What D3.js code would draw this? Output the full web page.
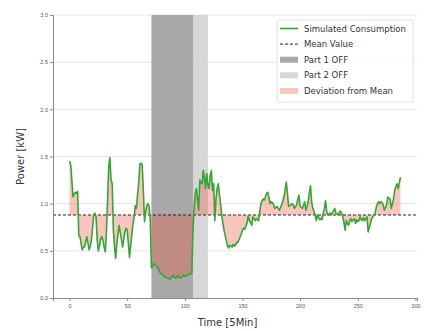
<!DOCTYPE html>
<html>
<head>
<meta charset="utf-8">
<script src="https://cdn.jsdelivr.net/npm/d3@7"></script>
<style>
  body { margin: 0; background: #fff; }
  svg { display: block; font-family: "DejaVu Sans", sans-serif; }
</style>
</head>
<body>
<svg id="chart" width="425" height="331"></svg>
<script>
// simulated consumption, one value per 5 minutes (0..287)
const consumption = [
  1.45, 1.41, 1.25, 1.07, 1.10, 1.12, 1.11, 1.13, 0.66, 0.65,
  0.58, 0.51, 0.54, 0.54, 0.60, 0.65, 0.58, 0.51, 0.55, 0.61,
  0.75, 0.88, 0.90, 0.86, 0.61, 0.50, 0.55, 0.63, 0.65, 0.61,
  0.54, 0.49, 0.70, 1.05, 1.40, 1.49, 1.25, 1.21, 0.72, 0.55,
  0.42, 0.57, 0.68, 0.77, 0.69, 0.62, 0.54, 0.62, 0.70, 0.74,
  0.72, 0.58, 0.43, 0.55, 0.67, 0.78, 0.86, 0.98, 0.95, 1.10,
  1.22, 1.42, 1.43, 1.41, 1.15, 0.81, 0.92, 0.98, 1.00, 0.97,
  0.83, 0.32, 0.33, 0.36, 0.36, 0.34, 0.33, 0.31, 0.28, 0.26,
  0.26, 0.24, 0.23, 0.22, 0.22, 0.21, 0.21, 0.20, 0.21, 0.23,
  0.24, 0.22, 0.21, 0.22, 0.24, 0.22, 0.21, 0.22, 0.23, 0.24,
  0.23, 0.24, 0.24, 0.25, 0.26, 0.25, 0.26, 0.70, 0.95, 1.10,
  1.16, 1.05, 0.93, 1.25, 1.22, 1.21, 1.35, 1.28, 1.16, 1.32,
  1.20, 1.16, 1.30, 1.35, 1.14, 1.21, 0.82, 1.05, 1.16, 1.21,
  1.10, 1.00, 0.88, 0.79, 0.72, 0.66, 0.61, 0.55, 0.53, 0.56,
  0.55, 0.54, 0.57, 0.55, 0.56, 0.59, 0.59, 0.62, 0.65, 0.68,
  0.72, 0.74, 0.73, 0.76, 0.80, 0.87, 0.82, 0.80, 0.77, 0.86,
  0.84, 0.82, 0.84, 0.83, 0.82, 0.92, 1.00, 1.03, 1.05, 1.04,
  1.08, 1.11, 1.12, 1.06, 1.00, 1.02, 1.01, 0.99, 0.95, 0.96,
  0.97, 0.95, 0.93, 0.96, 0.99, 1.03, 1.07, 1.15, 1.23, 1.11,
  0.97, 0.98, 0.99, 1.00, 0.99, 0.95, 0.97, 0.99, 1.05, 1.09,
  0.97, 0.96, 0.95, 0.99, 1.02, 0.93, 0.97, 1.02, 1.12, 1.19,
  1.02, 0.95, 0.92, 0.88, 0.82, 0.88, 0.85, 0.83, 0.84, 0.83,
  0.90, 0.95, 1.03, 0.92, 0.88, 0.89, 0.90, 0.88, 0.91, 0.92,
  0.95, 0.90, 0.89, 0.88, 0.91, 0.92, 0.90, 0.86, 0.80, 0.72,
  0.82, 0.79, 0.77, 0.82, 0.84, 0.81, 0.83, 0.84, 0.79, 0.83,
  0.81, 0.82, 0.86, 0.83, 0.82, 0.85, 0.82, 0.84, 0.86, 0.70,
  0.75, 0.79, 0.84, 0.86, 0.88, 0.90, 0.96, 1.00, 1.02, 1.00,
  1.02, 1.01, 0.99, 0.93, 0.96, 0.99, 1.07, 1.06, 1.05, 0.95,
  1.00, 1.05, 1.14, 1.18, 1.21, 1.16, 1.22, 1.28
];
const meanValue = 0.88;
const part1Off = [71, 107.5];
const part2Off = [107.5, 120];
const xTicks = [0, 50, 100, 150, 200, 250, 300];
const yTicks = [0.0, 0.5, 1.0, 1.5, 2.0, 2.5, 3.0];
const legendLabels = ['Simulated Consumption', 'Mean Value', 'Part 1 OFF', 'Part 2 OFF', 'Deviation from Mean'];

const margin = { top: 15, right: 8, bottom: 33, left: 53 },
  width = 425 - margin.left - margin.right,
  height = 331 - margin.top - margin.bottom;

const svg = d3.select('#chart');
const g = svg.append('g')
  .attr('transform', 'translate(' + margin.left + ',' + margin.top + ')');

const x = d3.scaleLinear().domain([-14.35, 301.35]).range([0, width]);
const y = d3.scaleLinear().domain([0, 3]).range([height, 0]);

// horizontal grid
g.append('g').selectAll('line').data(yTicks.slice(1)).join('line')
  .attr('x1', 0).attr('x2', width)
  .attr('y1', d => y(d)).attr('y2', d => y(d))
  .attr('stroke', '#e6e6e6').attr('stroke-width', 1);

// off periods
g.append('rect')
  .attr('x', x(part1Off[0])).attr('width', x(part1Off[1]) - x(part1Off[0]))
  .attr('y', 0).attr('height', height)
  .attr('fill', '#a9a9a9');
g.append('rect')
  .attr('x', x(part2Off[0])).attr('width', x(part2Off[1]) - x(part2Off[0]))
  .attr('y', 0).attr('height', height)
  .attr('fill', '#d6d6d6');

const data = consumption.map((v, i) => ({ t: i, v: v }));

// deviation area between line and mean
const area = d3.area()
  .x(d => x(d.t))
  .y0(y(meanValue))
  .y1(d => y(d.v));
g.append('path').datum(data)
  .attr('d', area)
  .attr('fill', 'rgb(240,80,60)')
  .attr('fill-opacity', 0.33);

// mean line
g.append('line')
  .attr('x1', 0).attr('x2', width)
  .attr('y1', y(meanValue)).attr('y2', y(meanValue))
  .attr('stroke', '#222').attr('stroke-width', 1)
  .attr('stroke-dasharray', '3,2');

// consumption line
const line = d3.line().x(d => x(d.t)).y(d => y(d.v));
g.append('path').datum(data)
  .attr('d', line)
  .attr('fill', 'none')
  .attr('stroke', '#35a535')
  .attr('stroke-width', 1.6)
  .attr('stroke-linejoin', 'round');

// axes
const xAxis = d3.axisBottom(x).tickValues(xTicks).tickSize(3).tickPadding(3);
const yAxis = d3.axisLeft(y).tickValues(yTicks).tickSize(3).tickPadding(2)
  .tickFormat(d3.format('.1f'));

const gx = g.append('g')
  .attr('transform', 'translate(0,' + height + ')')
  .call(xAxis);
const gy = g.append('g').call(yAxis);

[gx, gy].forEach(a => {
  a.select('.domain').attr('stroke', '#8a8a8a');
  a.selectAll('.tick line').attr('stroke', '#8a8a8a');
  a.selectAll('.tick text').attr('fill', '#555').style('font-size', '5.5px');
});

// axis labels
svg.append('text')
  .attr('x', margin.left + x(137)).attr('y', 326)
  .attr('text-anchor', 'middle')
  .style('font-size', '10px').attr('fill', '#333')
  .text('Time [5Min]');

svg.append('text')
  .attr('transform', 'translate(24,' + (margin.top + height / 2) + ') rotate(-90)')
  .attr('text-anchor', 'middle')
  .style('font-size', '10px').attr('fill', '#333')
  .text('Power [kW]');

// legend
const legend = svg.append('g').attr('transform', 'translate(277,20)');
legend.append('rect')
  .attr('width', 136).attr('height', 82).attr('rx', 2)
  .attr('fill', '#fff').attr('fill-opacity', 0.85)
  .attr('stroke', '#e0e0e0');

const rowY = i => 8.5 + i * 15.6;
legendLabels.forEach((label, i) => {
  const row = legend.append('g').attr('transform', 'translate(0,' + rowY(i) + ')');
  if (i === 0) {
    row.append('line').attr('x1', 3).attr('x2', 21).attr('stroke', '#35a535').attr('stroke-width', 1.6);
  } else if (i === 1) {
    row.append('line').attr('x1', 3).attr('x2', 21).attr('stroke', '#222').attr('stroke-width', 1).attr('stroke-dasharray', '3,2');
  } else {
    const fills = { 2: '#a9a9a9', 3: '#d6d6d6', 4: 'rgba(240,80,60,0.33)' };
    row.append('rect').attr('x', 3).attr('y', -3).attr('width', 18).attr('height', 6).attr('fill', fills[i]);
  }
  row.append('text')
    .attr('x', 27).attr('y', 3)
    .style('font-size', '8.5px').attr('fill', '#333')
    .text(label);
});
</script>
</body>
</html>
